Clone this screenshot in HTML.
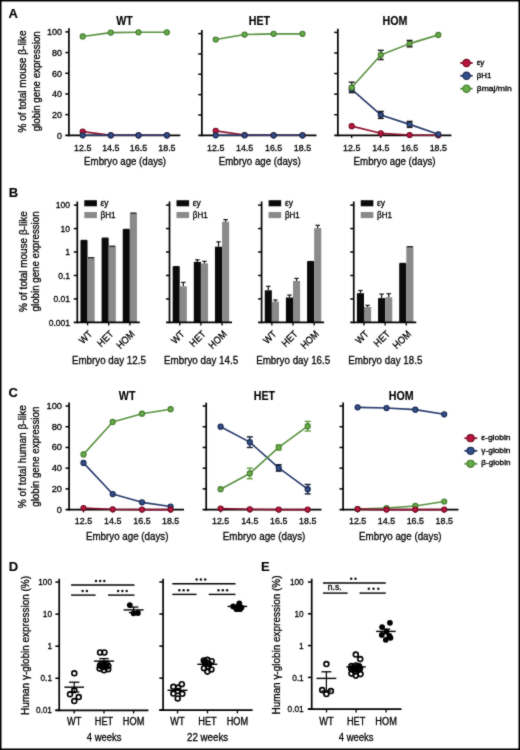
<!DOCTYPE html>
<html><head><meta charset="utf-8"><style>
html,body{margin:0;padding:0;background:#fff;}
svg{display:block;font-family:"Liberation Sans",sans-serif;}
text{stroke:#000;stroke-width:0.3px;}
text[font-weight]{stroke-width:0.1px;}
</style></head><body>
<svg width="520" height="750" viewBox="0 0 520 750">
<defs><filter id="sb" x="0" y="0" width="520" height="750" filterUnits="userSpaceOnUse" color-interpolation-filters="sRGB"><feConvolveMatrix order="3" kernelMatrix="0.0333 0.0667 0.0333 0.0667 0.6000 0.0667 0.0333 0.0667 0.0333" edgeMode="duplicate" preserveAlpha="true"/></filter></defs>
<g filter="url(#sb)">
<rect x="0" y="0" width="520" height="750" fill="#fff"/>
<text x="8.6" y="18.2" font-size="13" font-weight="bold">A</text>
<text x="8.8" y="197.3" font-size="13" font-weight="bold">B</text>
<text x="8.6" y="396.5" font-size="13" font-weight="bold">C</text>
<text x="8.8" y="571.1" font-size="13" font-weight="bold">D</text>
<text x="260.9" y="571.1" font-size="13" font-weight="bold">E</text>
<line x1="68.9" y1="28.3" x2="68.9" y2="136.15" stroke="#000" stroke-width="1.7"/>
<line x1="65.3" y1="135.3" x2="180.3" y2="135.3" stroke="#000" stroke-width="1.7"/>
<line x1="65.3" y1="114.62" x2="68.9" y2="114.62" stroke="#000" stroke-width="1.5"/>
<line x1="65.3" y1="93.94" x2="68.9" y2="93.94" stroke="#000" stroke-width="1.5"/>
<line x1="65.3" y1="73.26" x2="68.9" y2="73.26" stroke="#000" stroke-width="1.5"/>
<line x1="65.3" y1="52.58" x2="68.9" y2="52.58" stroke="#000" stroke-width="1.5"/>
<line x1="65.3" y1="31.9" x2="68.9" y2="31.9" stroke="#000" stroke-width="1.5"/>
<line x1="82.7" y1="135.3" x2="82.7" y2="138.1" stroke="#000" stroke-width="1.3"/>
<line x1="110.8" y1="135.3" x2="110.8" y2="138.1" stroke="#000" stroke-width="1.3"/>
<line x1="138.5" y1="135.3" x2="138.5" y2="138.1" stroke="#000" stroke-width="1.3"/>
<line x1="166.9" y1="135.3" x2="166.9" y2="138.1" stroke="#000" stroke-width="1.3"/>
<text x="124.5" y="24.5" font-size="12" text-anchor="middle" font-weight="bold" textLength="16.6" lengthAdjust="spacingAndGlyphs">WT</text>
<text x="82.7" y="150.6" font-size="9" text-anchor="middle" textLength="17.3" lengthAdjust="spacingAndGlyphs">12.5</text>
<text x="110.8" y="150.6" font-size="9" text-anchor="middle" textLength="17.3" lengthAdjust="spacingAndGlyphs">14.5</text>
<text x="138.5" y="150.6" font-size="9" text-anchor="middle" textLength="17.3" lengthAdjust="spacingAndGlyphs">16.5</text>
<text x="166.9" y="150.6" font-size="9" text-anchor="middle" textLength="17.3" lengthAdjust="spacingAndGlyphs">18.5</text>
<text x="125.1" y="165.4" font-size="11.3" text-anchor="middle" textLength="82" lengthAdjust="spacingAndGlyphs">Embryo age (days)</text>
<text x="62" y="138.6" font-size="9.2" text-anchor="end" textLength="5.01" lengthAdjust="spacingAndGlyphs">0</text>
<text x="62" y="117.92" font-size="9.2" text-anchor="end" textLength="10.03" lengthAdjust="spacingAndGlyphs">20</text>
<text x="62" y="97.24" font-size="9.2" text-anchor="end" textLength="10.03" lengthAdjust="spacingAndGlyphs">40</text>
<text x="62" y="76.56" font-size="9.2" text-anchor="end" textLength="10.03" lengthAdjust="spacingAndGlyphs">60</text>
<text x="62" y="55.88" font-size="9.2" text-anchor="end" textLength="10.03" lengthAdjust="spacingAndGlyphs">80</text>
<text x="62" y="35.2" font-size="9.2" text-anchor="end" textLength="15.04" lengthAdjust="spacingAndGlyphs">100</text>
<polyline points="82.7,131.59 110.8,135.3 138.5,135.3 166.9,135.3" fill="none" stroke="#8e1232" stroke-width="1.6" stroke-linejoin="round"/>
<polyline points="82.7,135.3 110.8,135.3 138.5,135.3 166.9,135.3" fill="none" stroke="#26386a" stroke-width="1.6" stroke-linejoin="round"/>
<polyline points="82.7,36.42 110.8,32.61 138.5,32.3 166.9,32.3" fill="none" stroke="#58913f" stroke-width="1.6" stroke-linejoin="round"/>
<circle cx="82.7" cy="131.59" r="2.55" fill="#bc1640" stroke="#700a22" stroke-width="1.1"/>
<circle cx="110.8" cy="135.3" r="2.55" fill="#bc1640" stroke="#700a22" stroke-width="1.1"/>
<circle cx="138.5" cy="135.3" r="2.55" fill="#bc1640" stroke="#700a22" stroke-width="1.1"/>
<circle cx="166.9" cy="135.3" r="2.55" fill="#bc1640" stroke="#700a22" stroke-width="1.1"/>
<circle cx="82.7" cy="135.3" r="2.55" fill="#33508a" stroke="#1a2850" stroke-width="1.1"/>
<circle cx="110.8" cy="135.3" r="2.55" fill="#33508a" stroke="#1a2850" stroke-width="1.1"/>
<circle cx="138.5" cy="135.3" r="2.55" fill="#33508a" stroke="#1a2850" stroke-width="1.1"/>
<circle cx="166.9" cy="135.3" r="2.55" fill="#33508a" stroke="#1a2850" stroke-width="1.1"/>
<circle cx="82.7" cy="36.42" r="2.55" fill="#66ac48" stroke="#457a30" stroke-width="1.1"/>
<circle cx="110.8" cy="32.61" r="2.55" fill="#66ac48" stroke="#457a30" stroke-width="1.1"/>
<circle cx="138.5" cy="32.3" r="2.55" fill="#66ac48" stroke="#457a30" stroke-width="1.1"/>
<circle cx="166.9" cy="32.3" r="2.55" fill="#66ac48" stroke="#457a30" stroke-width="1.1"/>
<line x1="201.85" y1="30" x2="201.85" y2="136.15" stroke="#000" stroke-width="1.7"/>
<line x1="198.25" y1="135.3" x2="316.5" y2="135.3" stroke="#000" stroke-width="1.7"/>
<line x1="198.25" y1="114.96" x2="201.85" y2="114.96" stroke="#000" stroke-width="1.5"/>
<line x1="198.25" y1="94.62" x2="201.85" y2="94.62" stroke="#000" stroke-width="1.5"/>
<line x1="198.25" y1="74.28" x2="201.85" y2="74.28" stroke="#000" stroke-width="1.5"/>
<line x1="198.25" y1="53.94" x2="201.85" y2="53.94" stroke="#000" stroke-width="1.5"/>
<line x1="198.25" y1="33.6" x2="201.85" y2="33.6" stroke="#000" stroke-width="1.5"/>
<line x1="215.7" y1="135.3" x2="215.7" y2="138.1" stroke="#000" stroke-width="1.3"/>
<line x1="244.6" y1="135.3" x2="244.6" y2="138.1" stroke="#000" stroke-width="1.3"/>
<line x1="273.6" y1="135.3" x2="273.6" y2="138.1" stroke="#000" stroke-width="1.3"/>
<line x1="302.5" y1="135.3" x2="302.5" y2="138.1" stroke="#000" stroke-width="1.3"/>
<text x="259.4" y="24.5" font-size="12" text-anchor="middle" font-weight="bold" textLength="21.36" lengthAdjust="spacingAndGlyphs">HET</text>
<text x="215.7" y="150.6" font-size="9" text-anchor="middle" textLength="17.3" lengthAdjust="spacingAndGlyphs">12.5</text>
<text x="244.6" y="150.6" font-size="9" text-anchor="middle" textLength="17.3" lengthAdjust="spacingAndGlyphs">14.5</text>
<text x="273.6" y="150.6" font-size="9" text-anchor="middle" textLength="17.3" lengthAdjust="spacingAndGlyphs">16.5</text>
<text x="302.5" y="150.6" font-size="9" text-anchor="middle" textLength="17.3" lengthAdjust="spacingAndGlyphs">18.5</text>
<text x="259.8" y="165.4" font-size="11.3" text-anchor="middle" textLength="82" lengthAdjust="spacingAndGlyphs">Embryo age (days)</text>
<polyline points="215.7,130.87 244.6,134.99 273.6,135.3 302.5,135.3" fill="none" stroke="#8e1232" stroke-width="1.6" stroke-linejoin="round"/>
<polyline points="215.7,135.3 244.6,135.3 273.6,135.3 302.5,135.3" fill="none" stroke="#26386a" stroke-width="1.6" stroke-linejoin="round"/>
<polyline points="215.7,39.51 244.6,34.57 273.6,33.84 302.5,33.84" fill="none" stroke="#58913f" stroke-width="1.6" stroke-linejoin="round"/>
<circle cx="215.7" cy="130.87" r="2.55" fill="#bc1640" stroke="#700a22" stroke-width="1.1"/>
<circle cx="244.6" cy="134.99" r="2.55" fill="#bc1640" stroke="#700a22" stroke-width="1.1"/>
<circle cx="273.6" cy="135.3" r="2.55" fill="#bc1640" stroke="#700a22" stroke-width="1.1"/>
<circle cx="302.5" cy="135.3" r="2.55" fill="#bc1640" stroke="#700a22" stroke-width="1.1"/>
<circle cx="215.7" cy="135.3" r="2.55" fill="#33508a" stroke="#1a2850" stroke-width="1.1"/>
<circle cx="244.6" cy="135.3" r="2.55" fill="#33508a" stroke="#1a2850" stroke-width="1.1"/>
<circle cx="273.6" cy="135.3" r="2.55" fill="#33508a" stroke="#1a2850" stroke-width="1.1"/>
<circle cx="302.5" cy="135.3" r="2.55" fill="#33508a" stroke="#1a2850" stroke-width="1.1"/>
<circle cx="215.7" cy="39.51" r="2.55" fill="#66ac48" stroke="#457a30" stroke-width="1.1"/>
<circle cx="244.6" cy="34.57" r="2.55" fill="#66ac48" stroke="#457a30" stroke-width="1.1"/>
<circle cx="273.6" cy="33.84" r="2.55" fill="#66ac48" stroke="#457a30" stroke-width="1.1"/>
<circle cx="302.5" cy="33.84" r="2.55" fill="#66ac48" stroke="#457a30" stroke-width="1.1"/>
<line x1="337.85" y1="28.8" x2="337.85" y2="136.15" stroke="#000" stroke-width="1.7"/>
<line x1="334.25" y1="135.3" x2="451.4" y2="135.3" stroke="#000" stroke-width="1.7"/>
<line x1="334.25" y1="114.72" x2="337.85" y2="114.72" stroke="#000" stroke-width="1.5"/>
<line x1="334.25" y1="94.14" x2="337.85" y2="94.14" stroke="#000" stroke-width="1.5"/>
<line x1="334.25" y1="73.56" x2="337.85" y2="73.56" stroke="#000" stroke-width="1.5"/>
<line x1="334.25" y1="52.98" x2="337.85" y2="52.98" stroke="#000" stroke-width="1.5"/>
<line x1="334.25" y1="32.4" x2="337.85" y2="32.4" stroke="#000" stroke-width="1.5"/>
<line x1="351.7" y1="135.3" x2="351.7" y2="138.1" stroke="#000" stroke-width="1.3"/>
<line x1="380.8" y1="135.3" x2="380.8" y2="138.1" stroke="#000" stroke-width="1.3"/>
<line x1="409.6" y1="135.3" x2="409.6" y2="138.1" stroke="#000" stroke-width="1.3"/>
<line x1="438.3" y1="135.3" x2="438.3" y2="138.1" stroke="#000" stroke-width="1.3"/>
<text x="395" y="24.5" font-size="12" text-anchor="middle" font-weight="bold" textLength="24.92" lengthAdjust="spacingAndGlyphs">HOM</text>
<text x="351.7" y="150.6" font-size="9" text-anchor="middle" textLength="17.3" lengthAdjust="spacingAndGlyphs">12.5</text>
<text x="380.8" y="150.6" font-size="9" text-anchor="middle" textLength="17.3" lengthAdjust="spacingAndGlyphs">14.5</text>
<text x="409.6" y="150.6" font-size="9" text-anchor="middle" textLength="17.3" lengthAdjust="spacingAndGlyphs">16.5</text>
<text x="438.3" y="150.6" font-size="9" text-anchor="middle" textLength="17.3" lengthAdjust="spacingAndGlyphs">18.5</text>
<text x="394.6" y="165.4" font-size="11.3" text-anchor="middle" textLength="82" lengthAdjust="spacingAndGlyphs">Embryo age (days)</text>
<polyline points="351.7,126.13 380.8,133.34 409.6,134.99 438.3,135.3" fill="none" stroke="#8e1232" stroke-width="1.6" stroke-linejoin="round"/>
<polyline points="351.7,89.47 380.8,114.91 409.6,124.38 438.3,134.27" fill="none" stroke="#26386a" stroke-width="1.6" stroke-linejoin="round"/>
<polyline points="351.7,87.41 380.8,54.96 409.6,43.63 438.3,34.88" fill="none" stroke="#58913f" stroke-width="1.6" stroke-linejoin="round"/>
<line x1="351.7" y1="82.2" x2="351.7" y2="92.61" stroke="#1a1a1a" stroke-width="1.3"/>
<line x1="380.8" y1="50.36" x2="380.8" y2="59.56" stroke="#1a1a1a" stroke-width="1.3"/>
<line x1="409.6" y1="40.43" x2="409.6" y2="46.83" stroke="#1a1a1a" stroke-width="1.3"/>
<line x1="380.8" y1="111.41" x2="380.8" y2="118.41" stroke="#1a1a1a" stroke-width="1.3"/>
<line x1="409.6" y1="121.38" x2="409.6" y2="127.38" stroke="#1a1a1a" stroke-width="1.3"/>
<circle cx="351.7" cy="126.13" r="2.55" fill="#bc1640" stroke="#700a22" stroke-width="1.1"/>
<circle cx="380.8" cy="133.34" r="2.55" fill="#bc1640" stroke="#700a22" stroke-width="1.1"/>
<circle cx="409.6" cy="134.99" r="2.55" fill="#bc1640" stroke="#700a22" stroke-width="1.1"/>
<circle cx="438.3" cy="135.3" r="2.55" fill="#bc1640" stroke="#700a22" stroke-width="1.1"/>
<circle cx="351.7" cy="89.47" r="2.55" fill="#33508a" stroke="#1a2850" stroke-width="1.1"/>
<circle cx="380.8" cy="114.91" r="2.55" fill="#33508a" stroke="#1a2850" stroke-width="1.1"/>
<circle cx="409.6" cy="124.38" r="2.55" fill="#33508a" stroke="#1a2850" stroke-width="1.1"/>
<circle cx="438.3" cy="134.27" r="2.55" fill="#33508a" stroke="#1a2850" stroke-width="1.1"/>
<circle cx="351.7" cy="87.41" r="2.55" fill="#66ac48" stroke="#457a30" stroke-width="1.1"/>
<circle cx="380.8" cy="54.96" r="2.55" fill="#66ac48" stroke="#457a30" stroke-width="1.1"/>
<circle cx="409.6" cy="43.63" r="2.55" fill="#66ac48" stroke="#457a30" stroke-width="1.1"/>
<circle cx="438.3" cy="34.88" r="2.55" fill="#66ac48" stroke="#457a30" stroke-width="1.1"/>
<line x1="348.7" y1="82.2" x2="354.7" y2="82.2" stroke="#1a1a1a" stroke-width="1.4"/>
<line x1="348.7" y1="92.61" x2="354.7" y2="92.61" stroke="#1a1a1a" stroke-width="1.4"/>
<line x1="377.8" y1="50.36" x2="383.8" y2="50.36" stroke="#1a1a1a" stroke-width="1.4"/>
<line x1="377.8" y1="59.56" x2="383.8" y2="59.56" stroke="#1a1a1a" stroke-width="1.4"/>
<line x1="406.6" y1="40.43" x2="412.6" y2="40.43" stroke="#1a1a1a" stroke-width="1.4"/>
<line x1="406.6" y1="46.83" x2="412.6" y2="46.83" stroke="#1a1a1a" stroke-width="1.4"/>
<line x1="377.8" y1="111.41" x2="383.8" y2="111.41" stroke="#1a1a1a" stroke-width="1.4"/>
<line x1="377.8" y1="118.41" x2="383.8" y2="118.41" stroke="#1a1a1a" stroke-width="1.4"/>
<line x1="406.6" y1="121.38" x2="412.6" y2="121.38" stroke="#1a1a1a" stroke-width="1.4"/>
<line x1="406.6" y1="127.38" x2="412.6" y2="127.38" stroke="#1a1a1a" stroke-width="1.4"/>
<text x="26.3" y="81.5" font-size="10.6" text-anchor="middle" textLength="102" lengthAdjust="spacingAndGlyphs" transform="rotate(-90 26.3 81.5)">% of total mouse β-like</text>
<text x="39.6" y="81.3" font-size="10.6" text-anchor="middle" textLength="100" lengthAdjust="spacingAndGlyphs" transform="rotate(-90 39.6 81.3)">globin gene expression</text>
<line x1="460.2" y1="63" x2="472.7" y2="63" stroke="#8e1232" stroke-width="1.8"/>
<circle cx="466.5" cy="63" r="3.65" fill="#bc1640" stroke="#700a22" stroke-width="1.1"/>
<line x1="460.2" y1="75.8" x2="472.7" y2="75.8" stroke="#26386a" stroke-width="1.8"/>
<circle cx="466.5" cy="75.8" r="3.65" fill="#33508a" stroke="#1a2850" stroke-width="1.1"/>
<line x1="460.2" y1="88.7" x2="472.7" y2="88.7" stroke="#58913f" stroke-width="1.8"/>
<circle cx="466.5" cy="88.7" r="3.65" fill="#66ac48" stroke="#457a30" stroke-width="1.1"/>
<text x="476.7" y="65.4" font-size="7.8" textLength="7.7" lengthAdjust="spacingAndGlyphs">εy</text>
<text x="476.7" y="78.2" font-size="7.8" textLength="14.6" lengthAdjust="spacingAndGlyphs">βH1</text>
<text x="476.7" y="91.1" font-size="7.8" textLength="35" lengthAdjust="spacingAndGlyphs">βmaj/min</text>
<rect x="80.45" y="240.4" width="7.1" height="82" fill="#0a0a0a"/>
<line x1="80.95" y1="240.4" x2="87.05" y2="240.4" stroke="#111" stroke-width="1.2"/>
<rect x="87.55" y="257.7" width="7.1" height="64.7" fill="#8a8a8a"/>
<line x1="88.05" y1="257.7" x2="94.15" y2="257.7" stroke="#111" stroke-width="1.2"/>
<rect x="101.6" y="238.1" width="7.1" height="84.3" fill="#0a0a0a"/>
<line x1="102.1" y1="238.1" x2="108.2" y2="238.1" stroke="#111" stroke-width="1.2"/>
<rect x="108.7" y="246.2" width="7.1" height="76.2" fill="#8a8a8a"/>
<line x1="109.2" y1="246.2" x2="115.3" y2="246.2" stroke="#111" stroke-width="1.2"/>
<rect x="122.75" y="229.4" width="7.1" height="93" fill="#0a0a0a"/>
<line x1="123.25" y1="229.4" x2="129.35" y2="229.4" stroke="#111" stroke-width="1.2"/>
<rect x="129.85" y="213.1" width="7.1" height="109.3" fill="#8a8a8a"/>
<line x1="130.35" y1="213.1" x2="136.45" y2="213.1" stroke="#111" stroke-width="1.2"/>
<line x1="77.3" y1="201.5" x2="77.3" y2="323.25" stroke="#000" stroke-width="1.7"/>
<line x1="73.8" y1="322.4" x2="139.8" y2="322.4" stroke="#000" stroke-width="1.7"/>
<line x1="73.8" y1="298.94" x2="77.3" y2="298.94" stroke="#000" stroke-width="1.5"/>
<line x1="73.8" y1="275.48" x2="77.3" y2="275.48" stroke="#000" stroke-width="1.5"/>
<line x1="73.8" y1="252.02" x2="77.3" y2="252.02" stroke="#000" stroke-width="1.5"/>
<line x1="73.8" y1="228.56" x2="77.3" y2="228.56" stroke="#000" stroke-width="1.5"/>
<line x1="73.8" y1="205.1" x2="77.3" y2="205.1" stroke="#000" stroke-width="1.5"/>
<line x1="87.55" y1="322.4" x2="87.55" y2="325.4" stroke="#000" stroke-width="1.3"/>
<text x="92.95" y="334.7" font-size="10" text-anchor="end" textLength="13.99" lengthAdjust="spacingAndGlyphs" transform="rotate(-45 92.95 334.7)">WT</text>
<line x1="108.7" y1="322.4" x2="108.7" y2="325.4" stroke="#000" stroke-width="1.3"/>
<text x="114.1" y="334.7" font-size="10" text-anchor="end" textLength="18" lengthAdjust="spacingAndGlyphs" transform="rotate(-45 114.1 334.7)">HET</text>
<line x1="129.85" y1="322.4" x2="129.85" y2="325.4" stroke="#000" stroke-width="1.3"/>
<text x="135.25" y="334.7" font-size="10" text-anchor="end" textLength="21" lengthAdjust="spacingAndGlyphs" transform="rotate(-45 135.25 334.7)">HOM</text>
<rect x="84.3" y="200.2" width="12.6" height="6.1" fill="#0a0a0a"/>
<rect x="84.3" y="212" width="12.6" height="6.1" fill="#8a8a8a"/>
<text x="100.6" y="206.4" font-size="8.4" textLength="8" lengthAdjust="spacingAndGlyphs">εy</text>
<text x="100.6" y="218.4" font-size="8.4" textLength="14.9" lengthAdjust="spacingAndGlyphs">βH1</text>
<text x="108.9" y="363.8" font-size="11.3" text-anchor="middle" textLength="74" lengthAdjust="spacingAndGlyphs">Embryo day 12.5</text>
<text x="70.1" y="325.6" font-size="9" text-anchor="end" textLength="21.39" lengthAdjust="spacingAndGlyphs">0.001</text>
<text x="70.1" y="302.14" font-size="9" text-anchor="end" textLength="16.64" lengthAdjust="spacingAndGlyphs">0.01</text>
<text x="70.1" y="278.68" font-size="9" text-anchor="end" textLength="11.88" lengthAdjust="spacingAndGlyphs">0.1</text>
<text x="70.1" y="255.22" font-size="9" text-anchor="end" textLength="4.75" lengthAdjust="spacingAndGlyphs">1</text>
<text x="70.1" y="231.76" font-size="9" text-anchor="end" textLength="9.51" lengthAdjust="spacingAndGlyphs">10</text>
<text x="70.1" y="208.3" font-size="9" text-anchor="end" textLength="14.26" lengthAdjust="spacingAndGlyphs">100</text>
<rect x="172.65" y="266.6" width="7.1" height="55.8" fill="#0a0a0a"/>
<line x1="173.15" y1="266.6" x2="179.25" y2="266.6" stroke="#111" stroke-width="1.2"/>
<rect x="179.75" y="286.3" width="7.1" height="36.1" fill="#8a8a8a"/>
<line x1="183.3" y1="282.4" x2="183.3" y2="286.3" stroke="#111" stroke-width="1.2"/>
<line x1="181.1" y1="282.4" x2="185.5" y2="282.4" stroke="#111" stroke-width="1.2"/>
<rect x="193.8" y="261.9" width="7.1" height="60.5" fill="#0a0a0a"/>
<line x1="197.35" y1="259.8" x2="197.35" y2="261.9" stroke="#111" stroke-width="1.2"/>
<line x1="195.15" y1="259.8" x2="199.55" y2="259.8" stroke="#111" stroke-width="1.2"/>
<rect x="200.9" y="263.4" width="7.1" height="59" fill="#8a8a8a"/>
<line x1="204.45" y1="261.3" x2="204.45" y2="263.4" stroke="#111" stroke-width="1.2"/>
<line x1="202.25" y1="261.3" x2="206.65" y2="261.3" stroke="#111" stroke-width="1.2"/>
<rect x="214.95" y="246.7" width="7.1" height="75.7" fill="#0a0a0a"/>
<line x1="218.5" y1="241.8" x2="218.5" y2="246.7" stroke="#111" stroke-width="1.2"/>
<line x1="216.3" y1="241.8" x2="220.7" y2="241.8" stroke="#111" stroke-width="1.2"/>
<rect x="222.05" y="221.7" width="7.1" height="100.7" fill="#8a8a8a"/>
<line x1="225.6" y1="219.6" x2="225.6" y2="221.7" stroke="#111" stroke-width="1.2"/>
<line x1="223.4" y1="219.6" x2="227.8" y2="219.6" stroke="#111" stroke-width="1.2"/>
<line x1="169.5" y1="201.5" x2="169.5" y2="323.25" stroke="#000" stroke-width="1.7"/>
<line x1="166" y1="322.4" x2="232" y2="322.4" stroke="#000" stroke-width="1.7"/>
<line x1="166" y1="298.94" x2="169.5" y2="298.94" stroke="#000" stroke-width="1.5"/>
<line x1="166" y1="275.48" x2="169.5" y2="275.48" stroke="#000" stroke-width="1.5"/>
<line x1="166" y1="252.02" x2="169.5" y2="252.02" stroke="#000" stroke-width="1.5"/>
<line x1="166" y1="228.56" x2="169.5" y2="228.56" stroke="#000" stroke-width="1.5"/>
<line x1="166" y1="205.1" x2="169.5" y2="205.1" stroke="#000" stroke-width="1.5"/>
<line x1="179.75" y1="322.4" x2="179.75" y2="325.4" stroke="#000" stroke-width="1.3"/>
<text x="185.15" y="334.7" font-size="10" text-anchor="end" textLength="13.99" lengthAdjust="spacingAndGlyphs" transform="rotate(-45 185.15 334.7)">WT</text>
<line x1="200.9" y1="322.4" x2="200.9" y2="325.4" stroke="#000" stroke-width="1.3"/>
<text x="206.3" y="334.7" font-size="10" text-anchor="end" textLength="18" lengthAdjust="spacingAndGlyphs" transform="rotate(-45 206.3 334.7)">HET</text>
<line x1="222.05" y1="322.4" x2="222.05" y2="325.4" stroke="#000" stroke-width="1.3"/>
<text x="227.45" y="334.7" font-size="10" text-anchor="end" textLength="21" lengthAdjust="spacingAndGlyphs" transform="rotate(-45 227.45 334.7)">HOM</text>
<rect x="176.5" y="200.2" width="12.6" height="6.1" fill="#0a0a0a"/>
<rect x="176.5" y="212" width="12.6" height="6.1" fill="#8a8a8a"/>
<text x="192.8" y="206.4" font-size="8.4" textLength="8" lengthAdjust="spacingAndGlyphs">εy</text>
<text x="192.8" y="218.4" font-size="8.4" textLength="14.9" lengthAdjust="spacingAndGlyphs">βH1</text>
<text x="201.1" y="363.8" font-size="11.3" text-anchor="middle" textLength="74" lengthAdjust="spacingAndGlyphs">Embryo day 14.5</text>
<rect x="264.75" y="290.3" width="7.1" height="32.1" fill="#0a0a0a"/>
<line x1="268.3" y1="286.3" x2="268.3" y2="290.3" stroke="#111" stroke-width="1.2"/>
<line x1="266.1" y1="286.3" x2="270.5" y2="286.3" stroke="#111" stroke-width="1.2"/>
<rect x="271.85" y="301.7" width="7.1" height="20.7" fill="#8a8a8a"/>
<line x1="275.4" y1="300" x2="275.4" y2="301.7" stroke="#111" stroke-width="1.2"/>
<line x1="273.2" y1="300" x2="277.6" y2="300" stroke="#111" stroke-width="1.2"/>
<rect x="285.9" y="297.5" width="7.1" height="24.9" fill="#0a0a0a"/>
<line x1="289.45" y1="295.1" x2="289.45" y2="297.5" stroke="#111" stroke-width="1.2"/>
<line x1="287.25" y1="295.1" x2="291.65" y2="295.1" stroke="#111" stroke-width="1.2"/>
<rect x="293" y="281" width="7.1" height="41.4" fill="#8a8a8a"/>
<line x1="296.55" y1="278.4" x2="296.55" y2="281" stroke="#111" stroke-width="1.2"/>
<line x1="294.35" y1="278.4" x2="298.75" y2="278.4" stroke="#111" stroke-width="1.2"/>
<rect x="307.05" y="261.5" width="7.1" height="60.9" fill="#0a0a0a"/>
<line x1="307.55" y1="261.5" x2="313.65" y2="261.5" stroke="#111" stroke-width="1.2"/>
<rect x="314.15" y="228.1" width="7.1" height="94.3" fill="#8a8a8a"/>
<line x1="317.7" y1="225.3" x2="317.7" y2="228.1" stroke="#111" stroke-width="1.2"/>
<line x1="315.5" y1="225.3" x2="319.9" y2="225.3" stroke="#111" stroke-width="1.2"/>
<line x1="261.6" y1="201.5" x2="261.6" y2="323.25" stroke="#000" stroke-width="1.7"/>
<line x1="258.1" y1="322.4" x2="324.1" y2="322.4" stroke="#000" stroke-width="1.7"/>
<line x1="258.1" y1="298.94" x2="261.6" y2="298.94" stroke="#000" stroke-width="1.5"/>
<line x1="258.1" y1="275.48" x2="261.6" y2="275.48" stroke="#000" stroke-width="1.5"/>
<line x1="258.1" y1="252.02" x2="261.6" y2="252.02" stroke="#000" stroke-width="1.5"/>
<line x1="258.1" y1="228.56" x2="261.6" y2="228.56" stroke="#000" stroke-width="1.5"/>
<line x1="258.1" y1="205.1" x2="261.6" y2="205.1" stroke="#000" stroke-width="1.5"/>
<line x1="271.85" y1="322.4" x2="271.85" y2="325.4" stroke="#000" stroke-width="1.3"/>
<text x="277.25" y="334.7" font-size="10" text-anchor="end" textLength="13.99" lengthAdjust="spacingAndGlyphs" transform="rotate(-45 277.25 334.7)">WT</text>
<line x1="293" y1="322.4" x2="293" y2="325.4" stroke="#000" stroke-width="1.3"/>
<text x="298.4" y="334.7" font-size="10" text-anchor="end" textLength="18" lengthAdjust="spacingAndGlyphs" transform="rotate(-45 298.4 334.7)">HET</text>
<line x1="314.15" y1="322.4" x2="314.15" y2="325.4" stroke="#000" stroke-width="1.3"/>
<text x="319.55" y="334.7" font-size="10" text-anchor="end" textLength="21" lengthAdjust="spacingAndGlyphs" transform="rotate(-45 319.55 334.7)">HOM</text>
<rect x="268.6" y="200.2" width="12.6" height="6.1" fill="#0a0a0a"/>
<rect x="268.6" y="212" width="12.6" height="6.1" fill="#8a8a8a"/>
<text x="284.9" y="206.4" font-size="8.4" textLength="8" lengthAdjust="spacingAndGlyphs">εy</text>
<text x="284.9" y="218.4" font-size="8.4" textLength="14.9" lengthAdjust="spacingAndGlyphs">βH1</text>
<text x="293.2" y="363.8" font-size="11.3" text-anchor="middle" textLength="74" lengthAdjust="spacingAndGlyphs">Embryo day 16.5</text>
<rect x="356.9" y="293.2" width="7.1" height="29.2" fill="#0a0a0a"/>
<line x1="360.45" y1="290.5" x2="360.45" y2="293.2" stroke="#111" stroke-width="1.2"/>
<line x1="358.25" y1="290.5" x2="362.65" y2="290.5" stroke="#111" stroke-width="1.2"/>
<rect x="364" y="307" width="7.1" height="15.4" fill="#8a8a8a"/>
<line x1="367.55" y1="305.3" x2="367.55" y2="307" stroke="#111" stroke-width="1.2"/>
<line x1="365.35" y1="305.3" x2="369.75" y2="305.3" stroke="#111" stroke-width="1.2"/>
<rect x="378.05" y="298.1" width="7.1" height="24.3" fill="#0a0a0a"/>
<line x1="381.6" y1="294.1" x2="381.6" y2="298.1" stroke="#111" stroke-width="1.2"/>
<line x1="379.4" y1="294.1" x2="383.8" y2="294.1" stroke="#111" stroke-width="1.2"/>
<rect x="385.15" y="297.3" width="7.1" height="25.1" fill="#8a8a8a"/>
<line x1="388.7" y1="293.7" x2="388.7" y2="297.3" stroke="#111" stroke-width="1.2"/>
<line x1="386.5" y1="293.7" x2="390.9" y2="293.7" stroke="#111" stroke-width="1.2"/>
<rect x="399.2" y="263.4" width="7.1" height="59" fill="#0a0a0a"/>
<line x1="399.7" y1="263.4" x2="405.8" y2="263.4" stroke="#111" stroke-width="1.2"/>
<rect x="406.3" y="246.7" width="7.1" height="75.7" fill="#8a8a8a"/>
<line x1="406.8" y1="246.7" x2="412.9" y2="246.7" stroke="#111" stroke-width="1.2"/>
<line x1="353.75" y1="201.5" x2="353.75" y2="323.25" stroke="#000" stroke-width="1.7"/>
<line x1="350.25" y1="322.4" x2="416.25" y2="322.4" stroke="#000" stroke-width="1.7"/>
<line x1="350.25" y1="298.94" x2="353.75" y2="298.94" stroke="#000" stroke-width="1.5"/>
<line x1="350.25" y1="275.48" x2="353.75" y2="275.48" stroke="#000" stroke-width="1.5"/>
<line x1="350.25" y1="252.02" x2="353.75" y2="252.02" stroke="#000" stroke-width="1.5"/>
<line x1="350.25" y1="228.56" x2="353.75" y2="228.56" stroke="#000" stroke-width="1.5"/>
<line x1="350.25" y1="205.1" x2="353.75" y2="205.1" stroke="#000" stroke-width="1.5"/>
<line x1="364" y1="322.4" x2="364" y2="325.4" stroke="#000" stroke-width="1.3"/>
<text x="369.4" y="334.7" font-size="10" text-anchor="end" textLength="13.99" lengthAdjust="spacingAndGlyphs" transform="rotate(-45 369.4 334.7)">WT</text>
<line x1="385.15" y1="322.4" x2="385.15" y2="325.4" stroke="#000" stroke-width="1.3"/>
<text x="390.55" y="334.7" font-size="10" text-anchor="end" textLength="18" lengthAdjust="spacingAndGlyphs" transform="rotate(-45 390.55 334.7)">HET</text>
<line x1="406.3" y1="322.4" x2="406.3" y2="325.4" stroke="#000" stroke-width="1.3"/>
<text x="411.7" y="334.7" font-size="10" text-anchor="end" textLength="21" lengthAdjust="spacingAndGlyphs" transform="rotate(-45 411.7 334.7)">HOM</text>
<rect x="360.75" y="200.2" width="12.6" height="6.1" fill="#0a0a0a"/>
<rect x="360.75" y="212" width="12.6" height="6.1" fill="#8a8a8a"/>
<text x="377.05" y="206.4" font-size="8.4" textLength="8" lengthAdjust="spacingAndGlyphs">εy</text>
<text x="377.05" y="218.4" font-size="8.4" textLength="14.9" lengthAdjust="spacingAndGlyphs">βH1</text>
<text x="385.35" y="363.8" font-size="11.3" text-anchor="middle" textLength="74" lengthAdjust="spacingAndGlyphs">Embryo day 18.5</text>
<text x="27.5" y="261.6" font-size="10.6" text-anchor="middle" textLength="101" lengthAdjust="spacingAndGlyphs" transform="rotate(-90 27.5 261.6)">% of total mouse β-like</text>
<text x="39.4" y="261.4" font-size="10.6" text-anchor="middle" textLength="100" lengthAdjust="spacingAndGlyphs" transform="rotate(-90 39.4 261.4)">globin gene expression</text>
<line x1="69.1" y1="402.6" x2="69.1" y2="510.45" stroke="#000" stroke-width="1.7"/>
<line x1="65.5" y1="509.6" x2="184" y2="509.6" stroke="#000" stroke-width="1.7"/>
<line x1="65.5" y1="488.88" x2="69.1" y2="488.88" stroke="#000" stroke-width="1.5"/>
<line x1="65.5" y1="468.16" x2="69.1" y2="468.16" stroke="#000" stroke-width="1.5"/>
<line x1="65.5" y1="447.44" x2="69.1" y2="447.44" stroke="#000" stroke-width="1.5"/>
<line x1="65.5" y1="426.72" x2="69.1" y2="426.72" stroke="#000" stroke-width="1.5"/>
<line x1="65.5" y1="406" x2="69.1" y2="406" stroke="#000" stroke-width="1.5"/>
<line x1="83.5" y1="509.6" x2="83.5" y2="512.4" stroke="#000" stroke-width="1.3"/>
<line x1="112.7" y1="509.6" x2="112.7" y2="512.4" stroke="#000" stroke-width="1.3"/>
<line x1="142" y1="509.6" x2="142" y2="512.4" stroke="#000" stroke-width="1.3"/>
<line x1="170.6" y1="509.6" x2="170.6" y2="512.4" stroke="#000" stroke-width="1.3"/>
<text x="127.1" y="399.8" font-size="12" text-anchor="middle" font-weight="bold" textLength="16.6" lengthAdjust="spacingAndGlyphs">WT</text>
<text x="83.5" y="524.3" font-size="9" text-anchor="middle" textLength="17.3" lengthAdjust="spacingAndGlyphs">12.5</text>
<text x="112.7" y="524.3" font-size="9" text-anchor="middle" textLength="17.3" lengthAdjust="spacingAndGlyphs">14.5</text>
<text x="142" y="524.3" font-size="9" text-anchor="middle" textLength="17.3" lengthAdjust="spacingAndGlyphs">16.5</text>
<text x="170.6" y="524.3" font-size="9" text-anchor="middle" textLength="17.3" lengthAdjust="spacingAndGlyphs">18.5</text>
<text x="127.2" y="540.3" font-size="11.3" text-anchor="middle" textLength="82.5" lengthAdjust="spacingAndGlyphs">Embryo age (days)</text>
<text x="62" y="512.6" font-size="9.3" text-anchor="end" textLength="5.17" lengthAdjust="spacingAndGlyphs">0</text>
<text x="62" y="491.88" font-size="9.3" text-anchor="end" textLength="10.34" lengthAdjust="spacingAndGlyphs">20</text>
<text x="62" y="471.16" font-size="9.3" text-anchor="end" textLength="10.34" lengthAdjust="spacingAndGlyphs">40</text>
<text x="62" y="450.44" font-size="9.3" text-anchor="end" textLength="10.34" lengthAdjust="spacingAndGlyphs">60</text>
<text x="62" y="429.72" font-size="9.3" text-anchor="end" textLength="10.34" lengthAdjust="spacingAndGlyphs">80</text>
<text x="62" y="409" font-size="9.3" text-anchor="end" textLength="15.52" lengthAdjust="spacingAndGlyphs">100</text>
<polyline points="83.5,462.88 112.7,494.06 142,502.35 170.6,506.49" fill="none" stroke="#26386a" stroke-width="1.6" stroke-linejoin="round"/>
<polyline points="83.5,454.38 112.7,421.95 142,413.67 170.6,409.21" fill="none" stroke="#58913f" stroke-width="1.6" stroke-linejoin="round"/>
<polyline points="83.5,508.05 112.7,509.29 142,509.6 170.6,509.6" fill="none" stroke="#8e1232" stroke-width="1.6" stroke-linejoin="round"/>
<circle cx="83.5" cy="462.88" r="2.55" fill="#33508a" stroke="#1a2850" stroke-width="1.1"/>
<circle cx="112.7" cy="494.06" r="2.55" fill="#33508a" stroke="#1a2850" stroke-width="1.1"/>
<circle cx="142" cy="502.35" r="2.55" fill="#33508a" stroke="#1a2850" stroke-width="1.1"/>
<circle cx="170.6" cy="506.49" r="2.55" fill="#33508a" stroke="#1a2850" stroke-width="1.1"/>
<circle cx="83.5" cy="454.38" r="2.55" fill="#66ac48" stroke="#457a30" stroke-width="1.1"/>
<circle cx="112.7" cy="421.95" r="2.55" fill="#66ac48" stroke="#457a30" stroke-width="1.1"/>
<circle cx="142" cy="413.67" r="2.55" fill="#66ac48" stroke="#457a30" stroke-width="1.1"/>
<circle cx="170.6" cy="409.21" r="2.55" fill="#66ac48" stroke="#457a30" stroke-width="1.1"/>
<circle cx="83.5" cy="508.05" r="2.55" fill="#bc1640" stroke="#700a22" stroke-width="1.1"/>
<circle cx="112.7" cy="509.29" r="2.55" fill="#bc1640" stroke="#700a22" stroke-width="1.1"/>
<circle cx="142" cy="509.6" r="2.55" fill="#bc1640" stroke="#700a22" stroke-width="1.1"/>
<circle cx="170.6" cy="509.6" r="2.55" fill="#bc1640" stroke="#700a22" stroke-width="1.1"/>
<line x1="206.2" y1="402.6" x2="206.2" y2="510.45" stroke="#000" stroke-width="1.7"/>
<line x1="202.6" y1="509.6" x2="321.5" y2="509.6" stroke="#000" stroke-width="1.7"/>
<line x1="202.6" y1="488.88" x2="206.2" y2="488.88" stroke="#000" stroke-width="1.5"/>
<line x1="202.6" y1="468.16" x2="206.2" y2="468.16" stroke="#000" stroke-width="1.5"/>
<line x1="202.6" y1="447.44" x2="206.2" y2="447.44" stroke="#000" stroke-width="1.5"/>
<line x1="202.6" y1="426.72" x2="206.2" y2="426.72" stroke="#000" stroke-width="1.5"/>
<line x1="202.6" y1="406" x2="206.2" y2="406" stroke="#000" stroke-width="1.5"/>
<line x1="220.6" y1="509.6" x2="220.6" y2="512.4" stroke="#000" stroke-width="1.3"/>
<line x1="249.8" y1="509.6" x2="249.8" y2="512.4" stroke="#000" stroke-width="1.3"/>
<line x1="278.7" y1="509.6" x2="278.7" y2="512.4" stroke="#000" stroke-width="1.3"/>
<line x1="307.7" y1="509.6" x2="307.7" y2="512.4" stroke="#000" stroke-width="1.3"/>
<text x="264.4" y="399.8" font-size="12" text-anchor="middle" font-weight="bold" textLength="21.36" lengthAdjust="spacingAndGlyphs">HET</text>
<text x="220.6" y="524.3" font-size="9" text-anchor="middle" textLength="17.3" lengthAdjust="spacingAndGlyphs">12.5</text>
<text x="249.8" y="524.3" font-size="9" text-anchor="middle" textLength="17.3" lengthAdjust="spacingAndGlyphs">14.5</text>
<text x="278.7" y="524.3" font-size="9" text-anchor="middle" textLength="17.3" lengthAdjust="spacingAndGlyphs">16.5</text>
<text x="307.7" y="524.3" font-size="9" text-anchor="middle" textLength="17.3" lengthAdjust="spacingAndGlyphs">18.5</text>
<text x="264.1" y="540.3" font-size="11.3" text-anchor="middle" textLength="82.5" lengthAdjust="spacingAndGlyphs">Embryo age (days)</text>
<polyline points="220.6,426.72 249.8,442.16 278.7,467.95 307.7,489.19" fill="none" stroke="#26386a" stroke-width="1.6" stroke-linejoin="round"/>
<polyline points="220.6,489.19 249.8,473.44 278.7,447.44 307.7,426.2" fill="none" stroke="#58913f" stroke-width="1.6" stroke-linejoin="round"/>
<polyline points="220.6,508.56 249.8,509.29 278.7,509.6 307.7,509.6" fill="none" stroke="#8e1232" stroke-width="1.6" stroke-linejoin="round"/>
<line x1="249.8" y1="436.86" x2="249.8" y2="447.46" stroke="#141c33" stroke-width="1.3"/>
<line x1="278.7" y1="464.75" x2="278.7" y2="471.15" stroke="#141c33" stroke-width="1.3"/>
<line x1="307.7" y1="484.49" x2="307.7" y2="493.89" stroke="#141c33" stroke-width="1.3"/>
<line x1="249.8" y1="468.14" x2="249.8" y2="478.74" stroke="#5f9a3c" stroke-width="1.3"/>
<line x1="278.7" y1="444.94" x2="278.7" y2="449.94" stroke="#5f9a3c" stroke-width="1.3"/>
<line x1="307.7" y1="421.4" x2="307.7" y2="431" stroke="#5f9a3c" stroke-width="1.3"/>
<circle cx="220.6" cy="426.72" r="2.55" fill="#33508a" stroke="#1a2850" stroke-width="1.1"/>
<circle cx="249.8" cy="442.16" r="2.55" fill="#33508a" stroke="#1a2850" stroke-width="1.1"/>
<circle cx="278.7" cy="467.95" r="2.55" fill="#33508a" stroke="#1a2850" stroke-width="1.1"/>
<circle cx="307.7" cy="489.19" r="2.55" fill="#33508a" stroke="#1a2850" stroke-width="1.1"/>
<circle cx="220.6" cy="489.19" r="2.55" fill="#66ac48" stroke="#457a30" stroke-width="1.1"/>
<circle cx="249.8" cy="473.44" r="2.55" fill="#66ac48" stroke="#457a30" stroke-width="1.1"/>
<circle cx="278.7" cy="447.44" r="2.55" fill="#66ac48" stroke="#457a30" stroke-width="1.1"/>
<circle cx="307.7" cy="426.2" r="2.55" fill="#66ac48" stroke="#457a30" stroke-width="1.1"/>
<circle cx="220.6" cy="508.56" r="2.55" fill="#bc1640" stroke="#700a22" stroke-width="1.1"/>
<circle cx="249.8" cy="509.29" r="2.55" fill="#bc1640" stroke="#700a22" stroke-width="1.1"/>
<circle cx="278.7" cy="509.6" r="2.55" fill="#bc1640" stroke="#700a22" stroke-width="1.1"/>
<circle cx="307.7" cy="509.6" r="2.55" fill="#bc1640" stroke="#700a22" stroke-width="1.1"/>
<line x1="246.8" y1="436.86" x2="252.8" y2="436.86" stroke="#141c33" stroke-width="1.4"/>
<line x1="246.8" y1="447.46" x2="252.8" y2="447.46" stroke="#141c33" stroke-width="1.4"/>
<line x1="275.7" y1="464.75" x2="281.7" y2="464.75" stroke="#141c33" stroke-width="1.4"/>
<line x1="275.7" y1="471.15" x2="281.7" y2="471.15" stroke="#141c33" stroke-width="1.4"/>
<line x1="304.7" y1="484.49" x2="310.7" y2="484.49" stroke="#141c33" stroke-width="1.4"/>
<line x1="304.7" y1="493.89" x2="310.7" y2="493.89" stroke="#141c33" stroke-width="1.4"/>
<line x1="246.8" y1="468.14" x2="252.8" y2="468.14" stroke="#5f9a3c" stroke-width="1.4"/>
<line x1="246.8" y1="478.74" x2="252.8" y2="478.74" stroke="#5f9a3c" stroke-width="1.4"/>
<line x1="275.7" y1="444.94" x2="281.7" y2="444.94" stroke="#5f9a3c" stroke-width="1.4"/>
<line x1="275.7" y1="449.94" x2="281.7" y2="449.94" stroke="#5f9a3c" stroke-width="1.4"/>
<line x1="304.7" y1="421.4" x2="310.7" y2="421.4" stroke="#5f9a3c" stroke-width="1.4"/>
<line x1="304.7" y1="431" x2="310.7" y2="431" stroke="#5f9a3c" stroke-width="1.4"/>
<line x1="343.1" y1="402.6" x2="343.1" y2="510.45" stroke="#000" stroke-width="1.7"/>
<line x1="339.5" y1="509.6" x2="458.5" y2="509.6" stroke="#000" stroke-width="1.7"/>
<line x1="339.5" y1="488.88" x2="343.1" y2="488.88" stroke="#000" stroke-width="1.5"/>
<line x1="339.5" y1="468.16" x2="343.1" y2="468.16" stroke="#000" stroke-width="1.5"/>
<line x1="339.5" y1="447.44" x2="343.1" y2="447.44" stroke="#000" stroke-width="1.5"/>
<line x1="339.5" y1="426.72" x2="343.1" y2="426.72" stroke="#000" stroke-width="1.5"/>
<line x1="339.5" y1="406" x2="343.1" y2="406" stroke="#000" stroke-width="1.5"/>
<line x1="357.6" y1="509.6" x2="357.6" y2="512.4" stroke="#000" stroke-width="1.3"/>
<line x1="386.5" y1="509.6" x2="386.5" y2="512.4" stroke="#000" stroke-width="1.3"/>
<line x1="415.3" y1="509.6" x2="415.3" y2="512.4" stroke="#000" stroke-width="1.3"/>
<line x1="444.2" y1="509.6" x2="444.2" y2="512.4" stroke="#000" stroke-width="1.3"/>
<text x="401.2" y="399.8" font-size="12" text-anchor="middle" font-weight="bold" textLength="24.92" lengthAdjust="spacingAndGlyphs">HOM</text>
<text x="357.6" y="524.3" font-size="9" text-anchor="middle" textLength="17.3" lengthAdjust="spacingAndGlyphs">12.5</text>
<text x="386.5" y="524.3" font-size="9" text-anchor="middle" textLength="17.3" lengthAdjust="spacingAndGlyphs">14.5</text>
<text x="415.3" y="524.3" font-size="9" text-anchor="middle" textLength="17.3" lengthAdjust="spacingAndGlyphs">16.5</text>
<text x="444.2" y="524.3" font-size="9" text-anchor="middle" textLength="17.3" lengthAdjust="spacingAndGlyphs">18.5</text>
<text x="400.3" y="540.3" font-size="11.3" text-anchor="middle" textLength="82.5" lengthAdjust="spacingAndGlyphs">Embryo age (days)</text>
<polyline points="357.6,407.35 386.5,408.07 415.3,409.63 444.2,414.29" fill="none" stroke="#26386a" stroke-width="1.6" stroke-linejoin="round"/>
<polyline points="357.6,509.08 386.5,508.05 415.3,505.97 444.2,501.52" fill="none" stroke="#58913f" stroke-width="1.6" stroke-linejoin="round"/>
<polyline points="357.6,509.08 386.5,509.6 415.3,509.6 444.2,509.6" fill="none" stroke="#8e1232" stroke-width="1.6" stroke-linejoin="round"/>
<circle cx="357.6" cy="407.35" r="2.55" fill="#33508a" stroke="#1a2850" stroke-width="1.1"/>
<circle cx="386.5" cy="408.07" r="2.55" fill="#33508a" stroke="#1a2850" stroke-width="1.1"/>
<circle cx="415.3" cy="409.63" r="2.55" fill="#33508a" stroke="#1a2850" stroke-width="1.1"/>
<circle cx="444.2" cy="414.29" r="2.55" fill="#33508a" stroke="#1a2850" stroke-width="1.1"/>
<circle cx="357.6" cy="509.08" r="2.55" fill="#66ac48" stroke="#457a30" stroke-width="1.1"/>
<circle cx="386.5" cy="508.05" r="2.55" fill="#66ac48" stroke="#457a30" stroke-width="1.1"/>
<circle cx="415.3" cy="505.97" r="2.55" fill="#66ac48" stroke="#457a30" stroke-width="1.1"/>
<circle cx="444.2" cy="501.52" r="2.55" fill="#66ac48" stroke="#457a30" stroke-width="1.1"/>
<circle cx="357.6" cy="509.08" r="2.55" fill="#bc1640" stroke="#700a22" stroke-width="1.1"/>
<circle cx="386.5" cy="509.6" r="2.55" fill="#bc1640" stroke="#700a22" stroke-width="1.1"/>
<circle cx="415.3" cy="509.6" r="2.55" fill="#bc1640" stroke="#700a22" stroke-width="1.1"/>
<circle cx="444.2" cy="509.6" r="2.55" fill="#bc1640" stroke="#700a22" stroke-width="1.1"/>
<text x="26.3" y="456.7" font-size="10.4" text-anchor="middle" textLength="103" lengthAdjust="spacingAndGlyphs" transform="rotate(-90 26.3 456.7)">% of total human β-like</text>
<text x="39.4" y="456.7" font-size="10.4" text-anchor="middle" textLength="100" lengthAdjust="spacingAndGlyphs" transform="rotate(-90 39.4 456.7)">globin gene expression</text>
<line x1="464.4" y1="438.2" x2="477.3" y2="438.2" stroke="#8e1232" stroke-width="1.8"/>
<circle cx="470.6" cy="438.2" r="3.55" fill="#bc1640" stroke="#700a22" stroke-width="1.1"/>
<line x1="464.4" y1="450.8" x2="477.3" y2="450.8" stroke="#26386a" stroke-width="1.8"/>
<circle cx="470.6" cy="450.8" r="3.55" fill="#33508a" stroke="#1a2850" stroke-width="1.1"/>
<line x1="464.4" y1="463.8" x2="477.3" y2="463.8" stroke="#58913f" stroke-width="1.8"/>
<circle cx="470.6" cy="463.8" r="3.55" fill="#66ac48" stroke="#457a30" stroke-width="1.1"/>
<text x="481.3" y="439.8" font-size="7.5" textLength="29.2" lengthAdjust="spacingAndGlyphs">ε-globin</text>
<text x="481.3" y="452.5" font-size="7.5" textLength="29.2" lengthAdjust="spacingAndGlyphs">γ-globin</text>
<text x="481.3" y="465.2" font-size="7.5" textLength="29.2" lengthAdjust="spacingAndGlyphs">β-globin</text>
<line x1="59.2" y1="578.8" x2="59.2" y2="711.15" stroke="#000" stroke-width="1.7"/>
<line x1="55.4" y1="710.3" x2="148.4" y2="710.3" stroke="#000" stroke-width="1.7"/>
<line x1="55.4" y1="582.1" x2="59.2" y2="582.1" stroke="#000" stroke-width="1.5"/>
<line x1="55.4" y1="614.15" x2="59.2" y2="614.15" stroke="#000" stroke-width="1.5"/>
<line x1="55.4" y1="646.2" x2="59.2" y2="646.2" stroke="#000" stroke-width="1.5"/>
<line x1="55.4" y1="678.25" x2="59.2" y2="678.25" stroke="#000" stroke-width="1.5"/>
<line x1="55.4" y1="710.3" x2="59.2" y2="710.3" stroke="#000" stroke-width="1.5"/>
<line x1="74.2" y1="710.3" x2="74.2" y2="713.5" stroke="#000" stroke-width="1.3"/>
<line x1="104" y1="710.3" x2="104" y2="713.5" stroke="#000" stroke-width="1.3"/>
<line x1="133.6" y1="710.3" x2="133.6" y2="713.5" stroke="#000" stroke-width="1.3"/>
<text x="74.2" y="725.4" font-size="10" text-anchor="middle" textLength="14.3" lengthAdjust="spacingAndGlyphs">WT</text>
<text x="104" y="725.4" font-size="10" text-anchor="middle" textLength="18.4" lengthAdjust="spacingAndGlyphs">HET</text>
<text x="133.6" y="725.4" font-size="10" text-anchor="middle" textLength="21.46" lengthAdjust="spacingAndGlyphs">HOM</text>
<text x="52" y="585.2" font-size="9" text-anchor="end" textLength="13.81" lengthAdjust="spacingAndGlyphs">100</text>
<text x="52" y="617.25" font-size="9" text-anchor="end" textLength="9.21" lengthAdjust="spacingAndGlyphs">10</text>
<text x="52" y="649.3" font-size="9" text-anchor="end" textLength="4.6" lengthAdjust="spacingAndGlyphs">1</text>
<text x="52" y="681.35" font-size="9" text-anchor="end" textLength="11.51" lengthAdjust="spacingAndGlyphs">0.1</text>
<text x="52" y="713.4" font-size="9" text-anchor="end" textLength="16.11" lengthAdjust="spacingAndGlyphs">0.01</text>
<line x1="71.1" y1="585" x2="134.5" y2="585" stroke="#000" stroke-width="1.4"/>
<line x1="71.1" y1="595.1" x2="95.6" y2="595.1" stroke="#000" stroke-width="1.4"/>
<line x1="108" y1="595.1" x2="134.5" y2="595.1" stroke="#000" stroke-width="1.4"/>
<circle cx="96" cy="580.9" r="1.25" fill="#111"/>
<circle cx="100.2" cy="580.9" r="1.25" fill="#111"/>
<circle cx="104.3" cy="580.9" r="1.25" fill="#111"/>
<circle cx="82.6" cy="591" r="1.25" fill="#111"/>
<circle cx="86.9" cy="591" r="1.25" fill="#111"/>
<circle cx="118.1" cy="591" r="1.25" fill="#111"/>
<circle cx="122.4" cy="591" r="1.25" fill="#111"/>
<circle cx="126.7" cy="591" r="1.25" fill="#111"/>
<line x1="64.4" y1="687.2" x2="84" y2="687.2" stroke="#000" stroke-width="1.4"/>
<line x1="74.2" y1="682.2" x2="74.2" y2="687.2" stroke="#000" stroke-width="1.2"/>
<line x1="69" y1="682.2" x2="79.4" y2="682.2" stroke="#000" stroke-width="1.3"/>
<line x1="74.2" y1="687.2" x2="74.2" y2="692" stroke="#000" stroke-width="1.2"/>
<line x1="69" y1="692" x2="79.4" y2="692" stroke="#000" stroke-width="1.3"/>
<circle cx="74.3" cy="673.3" r="2.45" fill="none" stroke="#000" stroke-width="1.65"/>
<circle cx="74.3" cy="690.3" r="2.45" fill="none" stroke="#000" stroke-width="1.65"/>
<circle cx="70" cy="694.3" r="2.45" fill="none" stroke="#000" stroke-width="1.65"/>
<circle cx="78.7" cy="697" r="2.45" fill="none" stroke="#000" stroke-width="1.65"/>
<circle cx="74.3" cy="701" r="2.45" fill="none" stroke="#000" stroke-width="1.65"/>
<line x1="94" y1="661.1" x2="114" y2="661.1" stroke="#000" stroke-width="1.4"/>
<line x1="104" y1="658.6" x2="104" y2="661.1" stroke="#000" stroke-width="1.2"/>
<line x1="99.25" y1="658.6" x2="108.75" y2="658.6" stroke="#000" stroke-width="1.3"/>
<line x1="104" y1="661.1" x2="104" y2="664" stroke="#000" stroke-width="1.2"/>
<line x1="99.25" y1="664" x2="108.75" y2="664" stroke="#000" stroke-width="1.3"/>
<circle cx="100.1" cy="652.4" r="2.45" fill="none" stroke="#000" stroke-width="1.65"/>
<circle cx="104.4" cy="652.4" r="2.45" fill="none" stroke="#000" stroke-width="1.65"/>
<circle cx="100" cy="665.5" r="2.45" fill="none" stroke="#000" stroke-width="1.65"/>
<circle cx="104.5" cy="664.5" r="2.45" fill="none" stroke="#000" stroke-width="1.65"/>
<circle cx="108.3" cy="666" r="2.45" fill="none" stroke="#000" stroke-width="1.65"/>
<circle cx="99.6" cy="668.6" r="2.45" fill="none" stroke="#000" stroke-width="1.65"/>
<circle cx="108.2" cy="669.2" r="2.45" fill="none" stroke="#000" stroke-width="1.65"/>
<circle cx="104" cy="670.3" r="2.45" fill="none" stroke="#000" stroke-width="1.65"/>
<circle cx="103.5" cy="667" r="2.45" fill="none" stroke="#000" stroke-width="1.65"/>
<circle cx="101.5" cy="663.8" r="2.45" fill="none" stroke="#000" stroke-width="1.65"/>
<circle cx="106.5" cy="663.5" r="2.45" fill="none" stroke="#000" stroke-width="1.65"/>
<circle cx="102" cy="666.2" r="2.45" fill="none" stroke="#000" stroke-width="1.65"/>
<circle cx="106" cy="666.6" r="2.45" fill="none" stroke="#000" stroke-width="1.65"/>
<line x1="123.6" y1="609.9" x2="143.6" y2="609.9" stroke="#000" stroke-width="1.4"/>
<line x1="133.6" y1="607.1" x2="133.6" y2="609.9" stroke="#000" stroke-width="1.2"/>
<line x1="128.85" y1="607.1" x2="138.35" y2="607.1" stroke="#000" stroke-width="1.3"/>
<line x1="133.6" y1="609.9" x2="133.6" y2="612.6" stroke="#000" stroke-width="1.2"/>
<line x1="128.85" y1="612.6" x2="138.35" y2="612.6" stroke="#000" stroke-width="1.3"/>
<circle cx="129.8" cy="605.1" r="2.9" fill="#000"/>
<circle cx="133.6" cy="613.3" r="2.9" fill="#000"/>
<circle cx="137.9" cy="613" r="2.9" fill="#000"/>
<text x="104.1" y="740.5" font-size="11.3" text-anchor="middle" textLength="34.6" lengthAdjust="spacingAndGlyphs">4 weeks</text>
<text x="28.6" y="645.5" font-size="10" text-anchor="middle" textLength="139" lengthAdjust="spacingAndGlyphs" transform="rotate(-90 28.6 645.5)">Human γ-globin expression (%)</text>
<line x1="163.1" y1="578.7" x2="163.1" y2="711.05" stroke="#000" stroke-width="1.7"/>
<line x1="159.3" y1="710.2" x2="252.6" y2="710.2" stroke="#000" stroke-width="1.7"/>
<line x1="159.3" y1="582" x2="163.1" y2="582" stroke="#000" stroke-width="1.5"/>
<line x1="159.3" y1="614.05" x2="163.1" y2="614.05" stroke="#000" stroke-width="1.5"/>
<line x1="159.3" y1="646.1" x2="163.1" y2="646.1" stroke="#000" stroke-width="1.5"/>
<line x1="159.3" y1="678.15" x2="163.1" y2="678.15" stroke="#000" stroke-width="1.5"/>
<line x1="159.3" y1="710.2" x2="163.1" y2="710.2" stroke="#000" stroke-width="1.5"/>
<line x1="177.5" y1="710.2" x2="177.5" y2="713.4" stroke="#000" stroke-width="1.3"/>
<line x1="207.5" y1="710.2" x2="207.5" y2="713.4" stroke="#000" stroke-width="1.3"/>
<line x1="237.4" y1="710.2" x2="237.4" y2="713.4" stroke="#000" stroke-width="1.3"/>
<text x="177.5" y="725.4" font-size="10" text-anchor="middle" textLength="14.3" lengthAdjust="spacingAndGlyphs">WT</text>
<text x="207.5" y="725.4" font-size="10" text-anchor="middle" textLength="18.4" lengthAdjust="spacingAndGlyphs">HET</text>
<text x="237.4" y="725.4" font-size="10" text-anchor="middle" textLength="21.46" lengthAdjust="spacingAndGlyphs">HOM</text>
<line x1="172.3" y1="583.8" x2="235.5" y2="583.8" stroke="#000" stroke-width="1.4"/>
<line x1="172.3" y1="594.4" x2="196.6" y2="594.4" stroke="#000" stroke-width="1.4"/>
<line x1="208.7" y1="594.4" x2="235.5" y2="594.4" stroke="#000" stroke-width="1.4"/>
<circle cx="196.6" cy="579.5" r="1.25" fill="#111"/>
<circle cx="200.9" cy="579.5" r="1.25" fill="#111"/>
<circle cx="205.2" cy="579.5" r="1.25" fill="#111"/>
<circle cx="179.3" cy="590.3" r="1.25" fill="#111"/>
<circle cx="183.6" cy="590.3" r="1.25" fill="#111"/>
<circle cx="188" cy="590.3" r="1.25" fill="#111"/>
<circle cx="218.5" cy="590.3" r="1.25" fill="#111"/>
<circle cx="222.8" cy="590.3" r="1.25" fill="#111"/>
<circle cx="227.1" cy="590.3" r="1.25" fill="#111"/>
<line x1="167.5" y1="690.3" x2="187.5" y2="690.3" stroke="#000" stroke-width="1.4"/>
<circle cx="181.8" cy="684.2" r="2.45" fill="none" stroke="#000" stroke-width="1.65"/>
<circle cx="173.4" cy="686.8" r="2.45" fill="none" stroke="#000" stroke-width="1.65"/>
<circle cx="178.1" cy="687.6" r="2.45" fill="none" stroke="#000" stroke-width="1.65"/>
<circle cx="173.4" cy="693.5" r="2.45" fill="none" stroke="#000" stroke-width="1.65"/>
<circle cx="182.3" cy="693.8" r="2.45" fill="none" stroke="#000" stroke-width="1.65"/>
<circle cx="177.7" cy="698.4" r="2.45" fill="none" stroke="#000" stroke-width="1.65"/>
<circle cx="177.6" cy="691" r="2.45" fill="none" stroke="#000" stroke-width="1.65"/>
<line x1="197.3" y1="664.3" x2="217.3" y2="664.3" stroke="#000" stroke-width="1.4"/>
<circle cx="203.8" cy="660.4" r="2.45" fill="none" stroke="#000" stroke-width="1.65"/>
<circle cx="207.3" cy="659.8" r="2.45" fill="none" stroke="#000" stroke-width="1.65"/>
<circle cx="211.6" cy="661.2" r="2.45" fill="none" stroke="#000" stroke-width="1.65"/>
<circle cx="205.5" cy="663.5" r="2.45" fill="none" stroke="#000" stroke-width="1.65"/>
<circle cx="209" cy="664" r="2.45" fill="none" stroke="#000" stroke-width="1.65"/>
<circle cx="204" cy="668.2" r="2.45" fill="none" stroke="#000" stroke-width="1.65"/>
<circle cx="208" cy="667" r="2.45" fill="none" stroke="#000" stroke-width="1.65"/>
<circle cx="211.4" cy="669.4" r="2.45" fill="none" stroke="#000" stroke-width="1.65"/>
<circle cx="207.4" cy="671.6" r="2.45" fill="none" stroke="#000" stroke-width="1.65"/>
<circle cx="205" cy="661.5" r="2.45" fill="none" stroke="#000" stroke-width="1.65"/>
<line x1="227.6" y1="606.4" x2="247.2" y2="606.4" stroke="#000" stroke-width="1.4"/>
<circle cx="239.3" cy="603.3" r="2.9" fill="#000"/>
<circle cx="233.2" cy="606.5" r="2.9" fill="#000"/>
<circle cx="237.5" cy="607" r="2.9" fill="#000"/>
<circle cx="241.5" cy="607.6" r="2.9" fill="#000"/>
<circle cx="236.5" cy="609.2" r="2.9" fill="#000"/>
<circle cx="240" cy="609.2" r="2.9" fill="#000"/>
<text x="207.6" y="740.5" font-size="11.3" text-anchor="middle" textLength="41.2" lengthAdjust="spacingAndGlyphs">22 weeks</text>
<line x1="311.7" y1="578.7" x2="311.7" y2="710.05" stroke="#000" stroke-width="1.7"/>
<line x1="307.9" y1="709.2" x2="401.5" y2="709.2" stroke="#000" stroke-width="1.7"/>
<line x1="307.9" y1="582" x2="311.7" y2="582" stroke="#000" stroke-width="1.5"/>
<line x1="307.9" y1="613.8" x2="311.7" y2="613.8" stroke="#000" stroke-width="1.5"/>
<line x1="307.9" y1="645.6" x2="311.7" y2="645.6" stroke="#000" stroke-width="1.5"/>
<line x1="307.9" y1="677.4" x2="311.7" y2="677.4" stroke="#000" stroke-width="1.5"/>
<line x1="307.9" y1="709.2" x2="311.7" y2="709.2" stroke="#000" stroke-width="1.5"/>
<line x1="326.5" y1="709.2" x2="326.5" y2="712.4" stroke="#000" stroke-width="1.3"/>
<line x1="356.1" y1="709.2" x2="356.1" y2="712.4" stroke="#000" stroke-width="1.3"/>
<line x1="386.1" y1="709.2" x2="386.1" y2="712.4" stroke="#000" stroke-width="1.3"/>
<text x="326.5" y="725.4" font-size="10" text-anchor="middle" textLength="14.3" lengthAdjust="spacingAndGlyphs">WT</text>
<text x="356.1" y="725.4" font-size="10" text-anchor="middle" textLength="18.4" lengthAdjust="spacingAndGlyphs">HET</text>
<text x="386.1" y="725.4" font-size="10" text-anchor="middle" textLength="21.46" lengthAdjust="spacingAndGlyphs">HOM</text>
<text x="303.7" y="585.1" font-size="9" text-anchor="end" textLength="13.81" lengthAdjust="spacingAndGlyphs">100</text>
<text x="303.7" y="616.9" font-size="9" text-anchor="end" textLength="9.21" lengthAdjust="spacingAndGlyphs">10</text>
<text x="303.7" y="648.7" font-size="9" text-anchor="end" textLength="4.6" lengthAdjust="spacingAndGlyphs">1</text>
<text x="303.7" y="680.5" font-size="9" text-anchor="end" textLength="11.51" lengthAdjust="spacingAndGlyphs">0.1</text>
<text x="303.7" y="712.3" font-size="9" text-anchor="end" textLength="16.11" lengthAdjust="spacingAndGlyphs">0.01</text>
<line x1="323" y1="583" x2="385.8" y2="583" stroke="#000" stroke-width="1.4"/>
<line x1="323" y1="593.1" x2="347.6" y2="593.1" stroke="#000" stroke-width="1.4"/>
<line x1="359.5" y1="593.1" x2="385.8" y2="593.1" stroke="#000" stroke-width="1.4"/>
<circle cx="351.2" cy="578.7" r="1.25" fill="#111"/>
<circle cx="355.5" cy="578.7" r="1.25" fill="#111"/>
<circle cx="368.8" cy="588.8" r="1.25" fill="#111"/>
<circle cx="373.5" cy="588.8" r="1.25" fill="#111"/>
<circle cx="378.3" cy="588.8" r="1.25" fill="#111"/>
<text x="334.7" y="590.2" font-size="8.4" text-anchor="middle" textLength="14" lengthAdjust="spacingAndGlyphs">n.s.</text>
<line x1="316.5" y1="678.4" x2="336.3" y2="678.4" stroke="#000" stroke-width="1.4"/>
<line x1="326.4" y1="671.8" x2="326.4" y2="678.4" stroke="#000" stroke-width="1.2"/>
<line x1="321.4" y1="671.8" x2="331.4" y2="671.8" stroke="#000" stroke-width="1.3"/>
<line x1="326.4" y1="678.4" x2="326.4" y2="691" stroke="#000" stroke-width="1.2"/>
<line x1="321.4" y1="691" x2="331.4" y2="691" stroke="#000" stroke-width="1.3"/>
<circle cx="326.4" cy="664" r="2.45" fill="none" stroke="#000" stroke-width="1.65"/>
<circle cx="322.2" cy="690.1" r="2.45" fill="none" stroke="#000" stroke-width="1.65"/>
<circle cx="330.9" cy="691" r="2.45" fill="none" stroke="#000" stroke-width="1.65"/>
<circle cx="326.4" cy="694" r="2.45" fill="none" stroke="#000" stroke-width="1.65"/>
<line x1="346.3" y1="666.9" x2="365.7" y2="666.9" stroke="#000" stroke-width="1.4"/>
<circle cx="355.8" cy="654.5" r="2.45" fill="none" stroke="#000" stroke-width="1.65"/>
<circle cx="360.2" cy="659.1" r="2.45" fill="none" stroke="#000" stroke-width="1.65"/>
<circle cx="351.5" cy="666" r="2.45" fill="none" stroke="#000" stroke-width="1.65"/>
<circle cx="356" cy="665.4" r="2.45" fill="none" stroke="#000" stroke-width="1.65"/>
<circle cx="353" cy="669.5" r="2.45" fill="none" stroke="#000" stroke-width="1.65"/>
<circle cx="358.3" cy="669" r="2.45" fill="none" stroke="#000" stroke-width="1.65"/>
<circle cx="355" cy="671.5" r="2.45" fill="none" stroke="#000" stroke-width="1.65"/>
<circle cx="351.5" cy="673.6" r="2.45" fill="none" stroke="#000" stroke-width="1.65"/>
<circle cx="355.8" cy="675.6" r="2.45" fill="none" stroke="#000" stroke-width="1.65"/>
<circle cx="360.5" cy="674.1" r="2.45" fill="none" stroke="#000" stroke-width="1.65"/>
<circle cx="353.5" cy="667.5" r="2.45" fill="none" stroke="#000" stroke-width="1.65"/>
<circle cx="357.5" cy="667" r="2.45" fill="none" stroke="#000" stroke-width="1.65"/>
<circle cx="355.5" cy="669" r="2.45" fill="none" stroke="#000" stroke-width="1.65"/>
<circle cx="351.2" cy="668.8" r="2.45" fill="none" stroke="#000" stroke-width="1.65"/>
<circle cx="360" cy="668.5" r="2.45" fill="none" stroke="#000" stroke-width="1.65"/>
<circle cx="359" cy="666.3" r="2.45" fill="none" stroke="#000" stroke-width="1.65"/>
<line x1="376.1" y1="631.4" x2="395.7" y2="631.4" stroke="#000" stroke-width="1.4"/>
<line x1="385.9" y1="629.1" x2="385.9" y2="631.4" stroke="#000" stroke-width="1.2"/>
<line x1="381.55" y1="629.1" x2="390.25" y2="629.1" stroke="#000" stroke-width="1.3"/>
<circle cx="389.9" cy="622.8" r="2.9" fill="#000"/>
<circle cx="382.1" cy="627.1" r="2.9" fill="#000"/>
<circle cx="381.8" cy="634.9" r="2.9" fill="#000"/>
<circle cx="386.4" cy="631.7" r="2.9" fill="#000"/>
<circle cx="389.3" cy="635.8" r="2.9" fill="#000"/>
<circle cx="390.5" cy="637.8" r="2.9" fill="#000"/>
<circle cx="385.8" cy="639.8" r="2.9" fill="#000"/>
<text x="356.1" y="740.5" font-size="11.3" text-anchor="middle" textLength="34.6" lengthAdjust="spacingAndGlyphs">4 weeks</text>
<text x="280" y="645" font-size="10" text-anchor="middle" textLength="139" lengthAdjust="spacingAndGlyphs" transform="rotate(-90 280 645)">Human γ-globin expression (%)</text>
<rect x="0.75" y="0.75" width="518.5" height="748.5" fill="none" stroke="#000" stroke-width="1.5"/>
</g>
</svg>
</body></html>
